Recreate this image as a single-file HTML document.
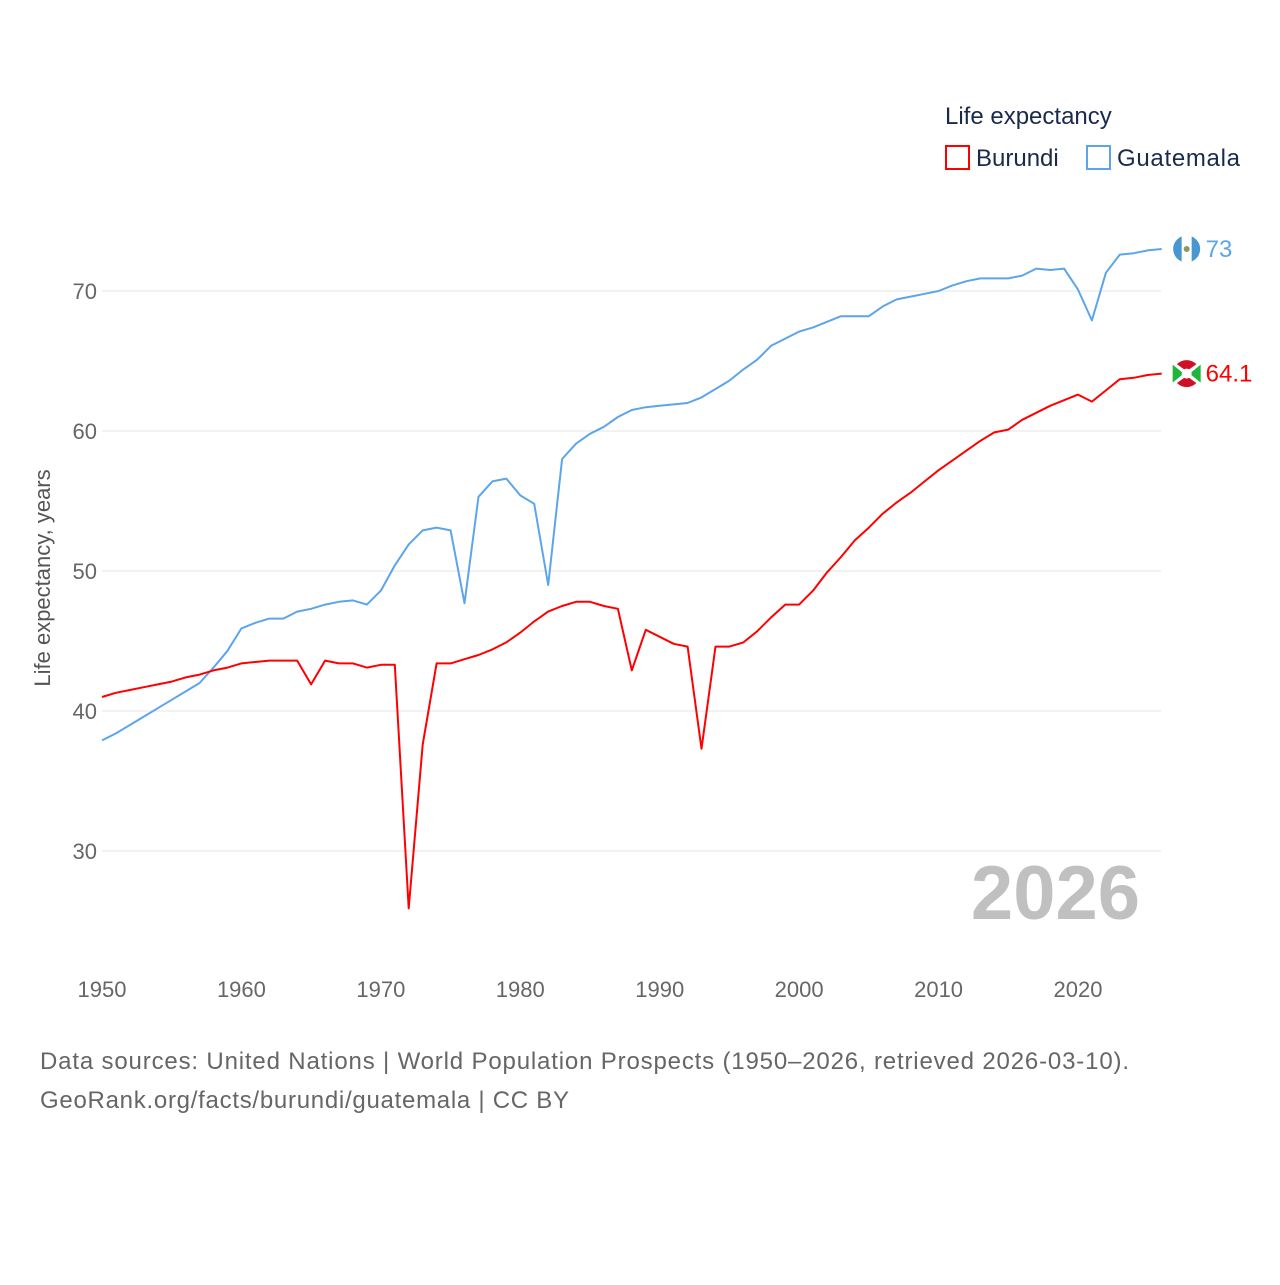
<!DOCTYPE html>
<html><head><meta charset="utf-8">
<style>
body{margin:0;background:#fff;font-family:"Liberation Sans",sans-serif;}
svg text{font-family:"Liberation Sans",sans-serif;}
</style></head>
<body>
<svg width="1280" height="1280" viewBox="0 0 1280 1280">
<g id="grid"></g>
<g id="yticks"></g>
<g id="xticks"></g>
<text x="50" y="578" transform="rotate(-90 50 578)" text-anchor="middle" font-size="22" fill="#555">Life expectancy, years</text>
<text x="1140" y="919" text-anchor="end" font-size="76" font-weight="bold" fill="#c0c0c0">2026</text>
<g id="series"></g>
<g>
<text x="945" y="124" font-size="24" fill="#1a2a4a">Life expectancy</text>
<g>
<rect x="946" y="146" width="23" height="23" fill="none" stroke="#ff0000" stroke-width="2"/>
<text x="976" y="166" font-size="24" fill="#1a2a4a">Burundi</text></g>
<g>
<rect x="1087" y="146" width="23" height="23" fill="none" stroke="#5da5ea" stroke-width="2"/>
<text x="1117" y="166" font-size="24" fill="#1a2a4a" textLength="123">Guatemala</text></g>
</g>
<text x="40" y="1069" font-size="24" fill="#666" textLength="1089">Data sources: United Nations | World Population Prospects (1950–2026, retrieved 2026-03-10).</text>
<text x="40" y="1108" font-size="24" fill="#666" textLength="529">GeoRank.org/facts/burundi/guatemala | CC BY</text>
</svg>
<script>
const years=[];for(let y=1950;y<=2026;y++)years.push(y);
const yTickValues=[30,40,50,60,70];
const xTickValues=[1950,1960,1970,1980,1990,2000,2010,2020];
const burundi=[41.0,41.3,41.5,41.7,41.9,42.1,42.4,42.6,42.9,43.1,43.4,43.5,43.6,43.6,43.6,41.9,43.6,43.4,43.4,43.1,43.3,43.3,25.9,37.6,43.4,43.4,43.7,44.0,44.4,44.9,45.6,46.4,47.1,47.5,47.8,47.8,47.5,47.3,42.9,45.8,45.3,44.8,44.6,37.3,44.6,44.6,44.9,45.7,46.7,47.6,47.6,48.6,49.9,51.0,52.2,53.1,54.1,54.9,55.6,56.4,57.2,57.9,58.6,59.3,59.9,60.1,60.8,61.3,61.8,62.2,62.6,62.1,62.9,63.7,63.8,64.0,64.1];
const guatemala=[37.9,38.4,39.0,39.6,40.2,40.8,41.4,42.0,43.1,44.3,45.9,
46.3,46.6,46.6,47.1,47.3,47.6,47.8,47.9,47.6,48.6,50.4,51.9,52.9,53.1,52.9,
47.7,55.3,56.4,56.6,55.4,54.8,49.0,58.0,59.1,59.8,60.3,61.0,61.5,61.7,61.8,61.9,62.0,62.4,63.0,63.6,64.4,65.1,66.1,66.6,67.1,67.4,67.8,68.2,68.2,68.2,68.9,69.4,69.6,69.8,70.0,
70.4,70.7,70.9,70.9,70.9,71.1,71.6,71.5,71.6,70.1,67.9,71.3,72.6,72.7,72.9,73];
const NS="http://www.w3.org/2000/svg";
const xs=y=>102+(y-1950)*(976/70);
const ys=v=>291+(70-v)*14;
function mk(t,a,p){const e=document.createElementNS(NS,t);for(const k in a)e.setAttribute(k,a[k]);p.appendChild(e);return e;}
const grid=document.getElementById('grid'),yt=document.getElementById('yticks'),xt=document.getElementById('xticks'),ser=document.getElementById('series');
yTickValues.forEach(v=>{
 const l=mk('line',{x1:102,x2:1161,y1:ys(v),y2:ys(v),stroke:'#e6e6e6','stroke-width':1},grid);
 
 
 const t=mk('text',{x:97,y:ys(v)+8,'text-anchor':'end','font-size':22,fill:'#666'},yt);
 t.textContent=v;
 
 
});
xTickValues.forEach(v=>{
 const t=mk('text',{x:xs(v),y:997,'text-anchor':'middle','font-size':22,fill:'#666'},xt);
 t.textContent=v;
 
 
});
function line(data,color,name){
 const d=data.map((v,i)=>(i?'L':'M')+xs(years[i]).toFixed(1)+','+ys(v).toFixed(1)).join('');
 const p=mk('path',{d:d,fill:'none',stroke:color,'stroke-width':2,'stroke-linejoin':'round'},ser);
 
 
 const last=data[data.length-1],lx=xs(years[years.length-1]),ly=ys(last);
 const c=mk('circle',{cx:lx+25,cy:ly,r:14,fill:name==='guatemala'?'#4997d0':'#ce1126',stroke:'#fff','stroke-width':1},ser);
 
 
 if(name==='guatemala'){mk('rect',{x:lx+20,y:ly-14,width:10,height:28,fill:'#fff'},ser);
 mk('circle',{cx:lx+25,cy:ly,r:3,fill:'#8a9a5b'},ser);}
 else{mk('path',{d:`M${lx+11},${ly-10}L${lx+39},${ly+10}M${lx+11},${ly+10}L${lx+39},${ly-10}`,stroke:'#fff','stroke-width':4},ser);
 mk('path',{d:`M${lx+11},${ly-9}L${lx+22},${ly}L${lx+11},${ly+9}ZM${lx+39},${ly-9}L${lx+28},${ly}L${lx+39},${ly+9}Z`,fill:'#1eb53a'},ser);
 mk('circle',{cx:lx+25,cy:ly,r:5,fill:'#fff'},ser);}
 const t=mk('text',{x:lx+44,y:ly+8,'font-size':24,fill:color},ser);
 t.textContent=last;
 
 
}
line(guatemala,'#5da5ea','guatemala');
line(burundi,'#ff0000','burundi');
</script>
</body></html>
